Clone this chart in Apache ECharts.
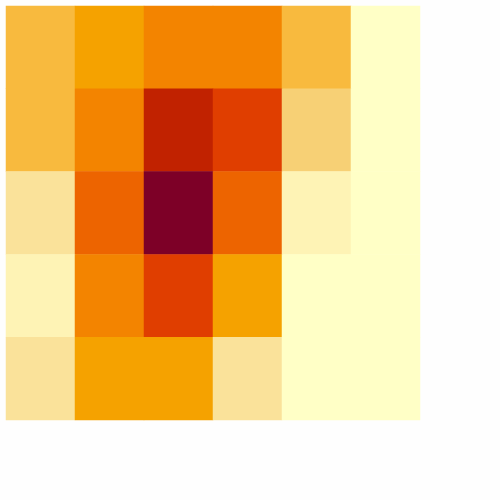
<!DOCTYPE html>
<html><head><meta charset="utf-8">
<script src="https://cdn.jsdelivr.net/npm/echarts@6/dist/echarts.min.js"></script>
<style>html,body{margin:0;padding:0;background:#fefefe;}#c{width:500px;height:500px;}</style>
</head><body><div id="c"></div>
<script>
var xCategories = ['0','1','2','3','4','5'];
var yCategories = ['0','1','2','3','4'];
// rows from top to bottom, columns left to right
var row0 = [4, 5, 6, 6, 4, 0];
var row1 = [4, 6, 9, 8, 3, 0];
var row2 = [2, 7, 10, 7, 1, 0];
var row3 = [1, 6, 8, 5, 0, 0];
var row4 = [2, 5, 5, 2, 0, 0];
var rows = [row0, row1, row2, row3, row4];
var palette = ['#ffffc6','#fef3b5','#fae29a','#f7d075','#f8ba3e','#f5a200','#f38400','#ed6400','#e03e00','#c12200','#7d0027'];

var data = [];
rows.forEach(function(r, ri){
  r.forEach(function(v, ci){ data.push([ci, ri, v]); });
});
var chart = echarts.init(document.getElementById('c'));
chart.setOption({
  backgroundColor: '#fefefe',
  animation: false,
  grid: {left: 6, top: 6, width: 414, height: 414},
  xAxis: {type: 'category', data: xCategories, show: false},
  yAxis: {type: 'category', data: yCategories, inverse: true, show: false},
  visualMap: {show: false, type: 'continuous', min: 0, max: 10, dimension: 2, inRange: {color: palette}},
  series: [{type: 'heatmap', data: data, itemStyle: {borderWidth: 0}}]
});
</script></body></html>
